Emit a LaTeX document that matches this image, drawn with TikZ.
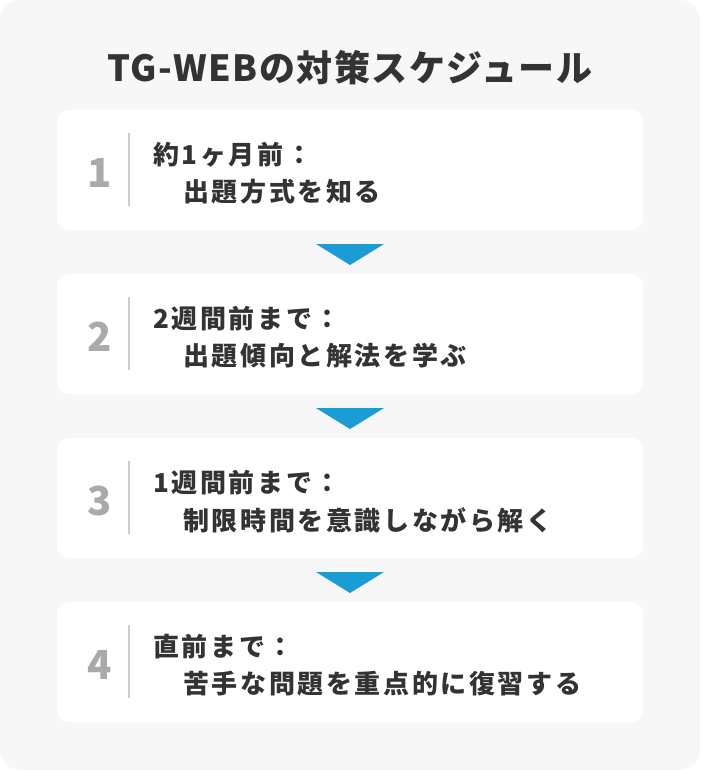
\documentclass[tikz,border=0pt]{standalone}
\usepackage{fontspec}
\usepackage{xcolor}
\newfontfamily\jpfont[LetterSpace=10]{Noto Sans CJK JP}
\newfontfamily\titlefont[LetterSpace=4]{Noto Sans CJK JP}
\definecolor{pagebg}{HTML}{F7F7F7}
\definecolor{inkdark}{HTML}{333333}
\definecolor{numgray}{HTML}{AAAAAA}
\definecolor{sepgray}{HTML}{CCCCCC}
\definecolor{arrowblue}{HTML}{1A9CD4}

\begin{document}
\begin{tikzpicture}[x=0.75pt,y=-0.75pt,
	stepbox/.style={fill=white, rounded corners=9pt, minimum width=439.5pt, minimum height=90pt, inner sep=0pt},
	stepnum/.style={text=numgray, font=\jpfont\bfseries\fontsize{30pt}{30pt}\selectfont, inner sep=0pt},
	steptext/.style={anchor=west, text=inkdark, font=\jpfont\bfseries\fontsize{19.5pt}{19.5pt}\selectfont, inner sep=0pt},
	sepline/.style={draw=sepgray, line width=1.5pt},
	downtri/.style={fill=arrowblue}]
	\useasboundingbox (0,0) rectangle (700,770);
	\fill[pagebg, rounded corners=15pt] (0,0) rectangle (700,770);
	\node[text=inkdark, font=\titlefont\bfseries\fontsize{27pt}{27pt}\selectfont, inner sep=0pt] (title) at (350,68) {TG-WEBの対策スケジュール};
	\foreach \i/\y/\head/\body in {1/110/{約1ヶ月前：}/{出題方式を知る},
		2/274/{2週間前まで：}/{出題傾向と解法を学ぶ},
		3/438/{1週間前まで：}/{制限時間を意識しながら解く},
		4/602/{直前まで：}/{苦手な問題を重点的に復習する}}
	{
		\node[stepbox] (box\i) at (350,\y+60) {};
		\node[stepnum] (num\i) at (100,\y+63) {\i};
		\draw[sepline] (129,\y+23) -- (129,\y+96);
		\node[steptext] (head\i) at (153,\y+45) {\head};
		\node[steptext] (body\i) at (183,\y+82) {\body};
	}
	\foreach \y in {244,408,572}
	\fill[downtri] (316,\y) -- (384,\y) -- (350,\y+21) -- cycle;
\end{tikzpicture}
\end{document}
